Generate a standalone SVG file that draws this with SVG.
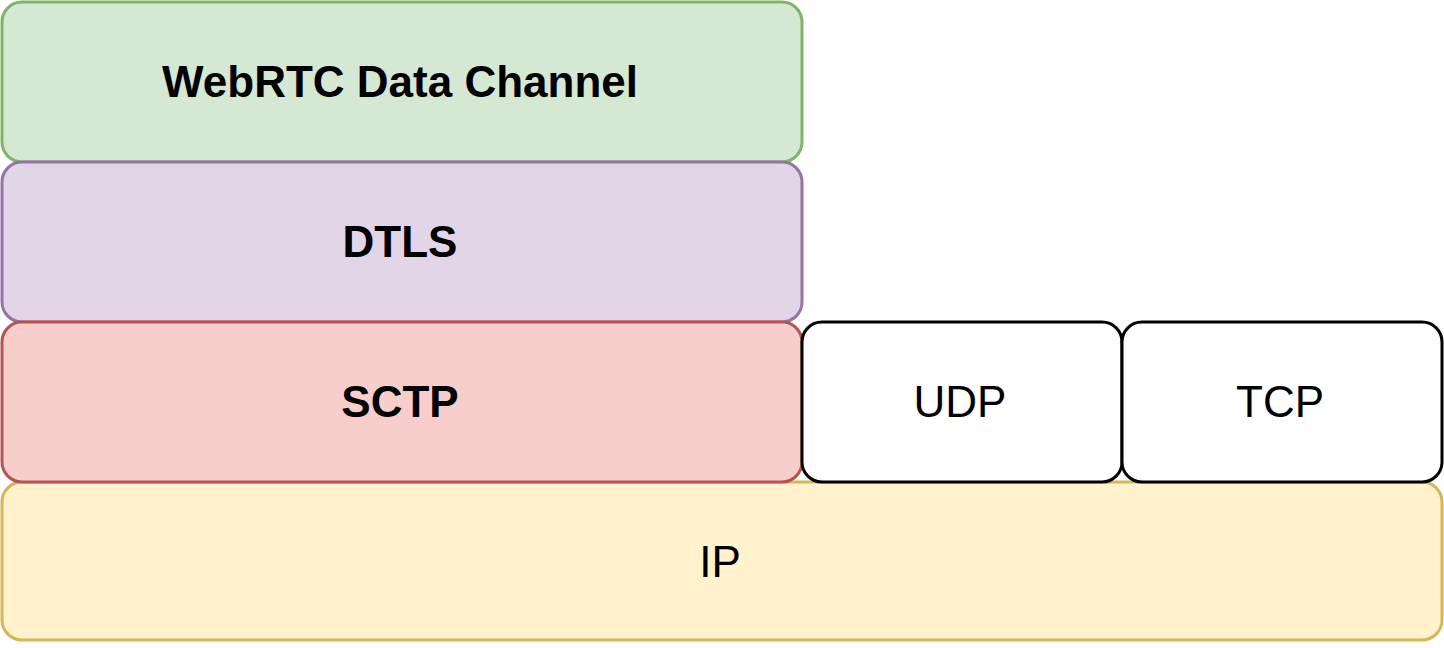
<svg xmlns="http://www.w3.org/2000/svg" width="1444" height="648" viewBox="0 0 1444 648">
<style>
rect{stroke-width:3}
text{font-family:"Liberation Sans",Arial,sans-serif;font-size:44px;text-anchor:middle;dominant-baseline:central;fill:#000}
.b{font-weight:bold}
</style>
<rect width="1444" height="648" fill="#fff" stroke="none"/>
<g id="ip"><rect x="2" y="482" width="1440" height="158" rx="20" fill="#fff2cc" stroke="#d6b656"/><text x="720" y="561">IP</text></g>
<g id="webrtc"><rect x="2" y="2" width="800" height="160" rx="20" fill="#d5e8d4" stroke="#82b366"/><text class="b" x="400" y="81">WebRTC Data Channel</text></g>
<g id="dtls"><rect x="2" y="162" width="800" height="160" rx="20" fill="#e1d5e7" stroke="#9673a6"/><text class="b" x="400" y="241">DTLS</text></g>
<g id="sctp"><rect x="2" y="322" width="800" height="160" rx="20" fill="#f8cecc" stroke="#b85450"/><text class="b" x="400" y="401">SCTP</text></g>
<g id="udp"><rect x="802" y="322" width="320" height="160" rx="20" fill="#fff" stroke="#000"/><text x="960" y="401">UDP</text></g>
<g id="tcp"><rect x="1122" y="322" width="320" height="160" rx="20" fill="#fff" stroke="#000"/><text x="1280" y="401">TCP</text></g>
<g id="connectors"/>
</svg>
